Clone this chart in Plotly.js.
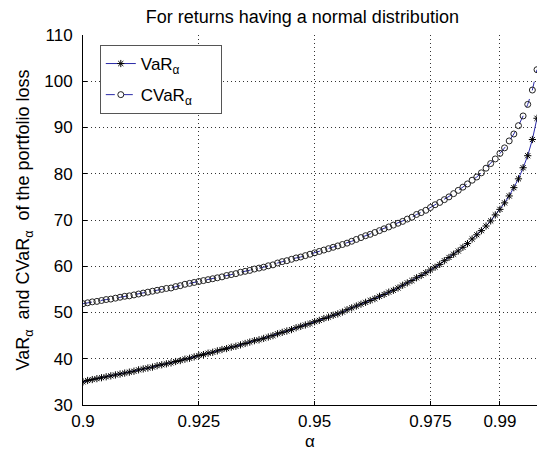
<!DOCTYPE html>
<html>
<head>
<meta charset="utf-8">
<script src="https://cdn.plot.ly/plotly-3.0.1.min.js"></script>
<style>html,body{margin:0;padding:0;background:#fff;}#chart{width:538px;height:452px;}</style>
</head>
<body>
<div id="chart"></div>
<script>
const alpha = [
0.900,0.901,0.902,0.903,0.904,0.905,0.906,0.907,0.908,0.909,
0.910,0.911,0.912,0.913,0.914,0.915,0.916,0.917,0.918,0.919,
0.920,0.921,0.922,0.923,0.924,0.925,0.926,0.927,0.928,0.929,
0.930,0.931,0.932,0.933,0.934,0.935,0.936,0.937,0.938,0.939,
0.940,0.941,0.942,0.943,0.944,0.945,0.946,0.947,0.948,0.949,
0.950,0.951,0.952,0.953,0.954,0.955,0.956,0.957,0.958,0.959,
0.960,0.961,0.962,0.963,0.964,0.965,0.966,0.967,0.968,0.969,
0.970,0.971,0.972,0.973,0.974,0.975,0.976,0.977,0.978,0.979,
0.980,0.981,0.982,0.983,0.984,0.985,0.986,0.987,0.988,0.989,
0.990,0.991,0.992,0.993,0.994,0.995,0.996,0.997,0.998];

const VaR = [
35.0,35.3,35.5,35.7,35.9,36.1,36.3,36.5,36.7,36.9,
37.1,37.3,37.6,37.8,38.0,38.2,38.5,38.7,38.9,39.1,
39.4,39.6,39.9,40.1,40.4,40.7,40.9,41.2,41.4,41.7,
42.0,42.2,42.5,42.7,43.0,43.3,43.6,43.9,44.1,44.4,
44.7,45.0,45.4,45.7,46.0,46.3,46.7,47.0,47.3,47.6,
48.0,48.3,48.7,49.0,49.4,49.7,50.1,50.6,51.0,51.4,
51.8,52.2,52.6,53.0,53.5,53.9,54.4,54.8,55.3,55.9,
56.4,56.9,57.5,58.0,58.6,59.2,59.8,60.4,61.2,61.9,
62.6,63.3,64.1,64.9,65.9,66.8,67.7,68.7,69.8,71.1,
72.3,73.7,75.2,77.0,78.9,81.3,83.9,87.4,92.0];

const CVaR = [
51.9,52.1,52.3,52.4,52.6,52.8,52.9,53.1,53.3,53.5,
53.6,53.8,54.0,54.2,54.4,54.6,54.8,55.0,55.2,55.3,
55.6,55.8,56.1,56.3,56.5,56.7,56.9,57.1,57.3,57.5,
57.7,58.0,58.2,58.4,58.7,58.9,59.1,59.4,59.6,59.8,
60.1,60.3,60.7,61.0,61.2,61.5,61.8,62.0,62.3,62.6,
62.9,63.2,63.5,63.8,64.1,64.4,64.7,65.0,65.4,65.8,
66.2,66.6,66.9,67.3,67.7,68.1,68.5,68.9,69.3,69.7,
70.2,70.6,71.2,71.6,72.1,72.7,73.3,73.8,74.4,75.0,
75.7,76.4,77.1,77.8,78.6,79.3,80.2,81.2,82.2,83.2,
84.4,85.6,87.1,88.6,90.4,92.5,95.0,98.1,102.5];

const xTicks = [0.9, 0.925, 0.95, 0.975, 0.99];
const xTickText = ['0.9', '0.925', '0.95', '0.975', '0.99'];
const yTicks = [30, 40, 50, 60, 70, 80, 90, 100, 110];

const FONT = '"Liberation Sans", Arial, sans-serif';
const GRID_DASH = '1px,3px';
const PAD = '\u00a0\u00a0\u00a0\u00a0\u00a0';

const traces = [
  {
    x: alpha, y: VaR, name: 'VaR<sub>α</sub>' + PAD + '\u00a0\u00a0', legendgroup: 'a',
    type: 'scatter', mode: 'lines+markers',
    line: {color: '#2a2aa8', width: 1},
    marker: {symbol: 'asterisk-open', size: 6, color: '#000', line: {color: '#000', width: 1}}
  },
  {
    x: alpha, y: CVaR, name: 'CVaR<sub>α</sub>' + PAD, legendgroup: 'b',
    type: 'scatter', mode: 'lines+markers',
    line: {color: '#2a2aa8', width: 1, dash: 'dash'},
    marker: {symbol: 'circle-open', size: 6, color: '#222', line: {color: '#222', width: 1}}
  }
];

const layout = {
  width: 538, height: 452,
  margin: {l: 83, r: 1, t: 35, b: 47},
  paper_bgcolor: '#fff', plot_bgcolor: '#fff',
  font: {family: FONT, size: 17, color: '#000'},
  title: {text: 'For returns having a normal distribution', font: {family: FONT, size: 18, color: '#000'},
          x: 0.562, xanchor: 'center', y: 0.962, yanchor: 'middle'},
  showlegend: true,
  legend: {x: 0.037, y: 0.973, xanchor: 'left', yanchor: 'top',
           bgcolor: '#fff', bordercolor: '#555', borderwidth: 1,
           traceorder: 'grouped', tracegroupgap: 6,
           font: {family: FONT, size: 17, color: '#000'}},
  xaxis: {
    range: [0.9, 0.998], tickmode: 'array', tickvals: xTicks, ticktext: xTickText,
    showgrid: true, gridcolor: '#333', gridwidth: 1, griddash: GRID_DASH,
    showline: true, linecolor: '#000', linewidth: 1, mirror: false,
    ticks: 'inside', ticklen: 4, tickcolor: '#000',
    zeroline: false, ticklabelstandoff: 1,
    tickfont: {family: FONT, size: 17, color: '#000'},
    title: {text: 'α', font: {family: FONT, size: 17, color: '#000'}, standoff: 4}
  },
  yaxis: {
    range: [30, 110], tickmode: 'array', tickvals: yTicks,
    showgrid: true, gridcolor: '#333', gridwidth: 1, griddash: GRID_DASH,
    showline: true, linecolor: '#000', linewidth: 1, mirror: false,
    ticks: 'inside', ticklen: 4, tickcolor: '#000',
    zeroline: false, ticklabelstandoff: 6,
    tickfont: {family: FONT, size: 17, color: '#000'},
    title: {text: 'VaR<sub>α</sub>  and CVaR<sub>α</sub>  of the portfolio loss', font: {family: FONT, size: 18, color: '#000'}, standoff: 9}
  }
};

Plotly.newPlot('chart', traces, layout, {displayModeBar: false, staticPlot: true});
</script>
</body>
</html>
